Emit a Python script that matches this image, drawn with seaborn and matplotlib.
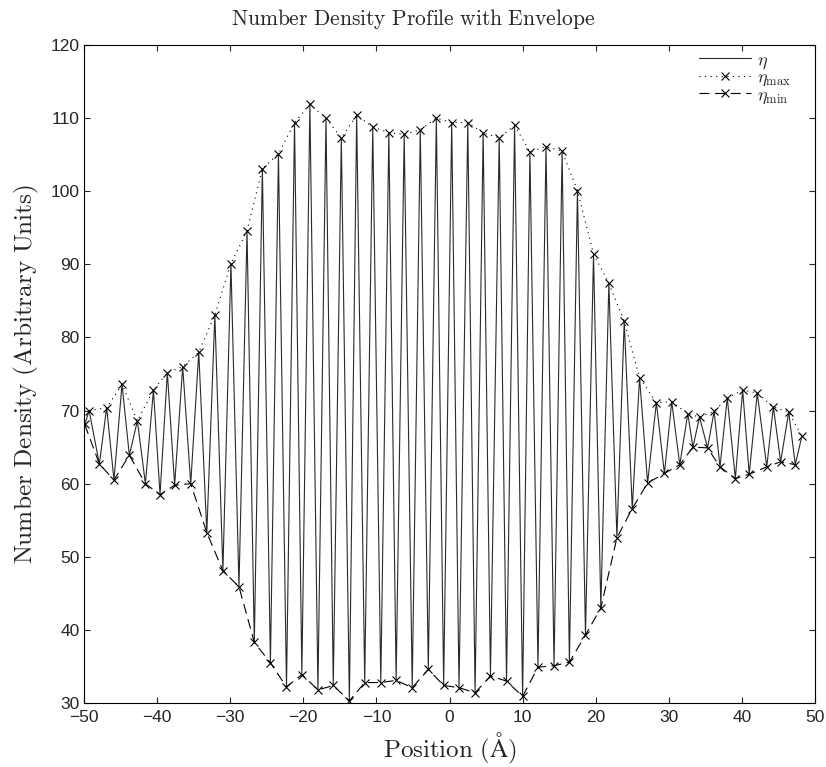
import matplotlib
matplotlib.use("Agg")
import matplotlib.pyplot as plt
import pandas as pd
import seaborn as sns

# envelope points (position in Angstrom, density)
max_x = [-49.3, -46.9, -44.8, -42.7, -40.5, -38.6, -36.5, -34.3, -32.1, -29.9,
         -27.7, -25.6, -23.4, -21.2, -19.1, -16.9, -14.8, -12.7, -10.5, -8.3,
         -6.2, -4.0, -1.8, 0.3, 2.5, 4.6, 6.8, 8.9, 11.0, 13.2,
         15.4, 17.5, 19.7, 21.8, 23.9, 26.0, 28.3, 30.4, 32.6, 34.2,
         36.2, 38.0, 40.1, 42.1, 44.3, 46.4, 48.2]
max_y = [70.0, 70.4, 73.6, 68.6, 72.8, 75.2, 76.0, 78.0, 83.1, 90.1,
         94.6, 103.1, 105.1, 109.4, 111.9, 110.0, 107.3, 110.4, 108.8, 108.0,
         107.8, 108.4, 110.0, 109.4, 109.4, 108.0, 107.3, 109.0, 105.4, 106.1,
         105.5, 100.1, 91.4, 87.4, 82.2, 74.5, 71.1, 71.2, 69.6, 69.1,
         69.9, 71.7, 72.8, 72.4, 70.5, 69.8, 66.5]

min_x = [-49.9, -47.9, -45.9, -43.8, -41.6, -39.6, -37.6, -35.4, -33.2, -31.0,
         -28.8, -26.7, -24.5, -22.3, -20.2, -18.0, -15.9, -13.7, -11.6, -9.4,
         -7.3, -5.1, -2.9, -0.8, 1.3, 3.5, 5.6, 7.8, 10.0, 12.1,
         14.3, 16.4, 18.6, 20.7, 22.9, 25.0, 27.1, 29.4, 31.5, 33.3,
         35.3, 37.0, 39.1, 41.0, 43.4, 45.3, 47.3]
min_y = [68.1, 62.7, 60.5, 63.9, 60.0, 58.5, 59.8, 60.0, 53.3, 48.1,
         45.9, 38.3, 35.5, 32.2, 33.9, 31.8, 32.4, 30.3, 32.8, 32.8,
         33.1, 32.1, 34.6, 32.4, 32.1, 31.4, 33.7, 33.0, 30.9, 34.9,
         35.1, 35.6, 39.3, 43.0, 52.6, 56.6, 60.1, 61.4, 62.6, 65.0,
         64.9, 62.3, 60.7, 61.3, 62.3, 63.0, 62.6]

X_TICKS = [-50, -40, -30, -20, -10, 0, 10, 20, 30, 40, 50]
Y_TICKS = [30, 40, 50, 60, 70, 80, 90, 100, 110, 120]


def main() -> None:
    sns.set_style("ticks")
    plt.rcParams["font.family"] = ["Liberation Sans", "DejaVu Sans"]
    plt.rcParams["mathtext.fontset"] = "cm"

    # the profile itself runs through the extrema in order of position
    eta = pd.DataFrame({"x": max_x + min_x, "y": max_y + min_y}).sort_values("x")
    upper = pd.DataFrame({"x": max_x, "y": max_y})
    lower = pd.DataFrame({"x": min_x, "y": min_y})

    fig = plt.figure(figsize=(8.26, 7.67), dpi=100)
    ax = fig.add_axes([0.1017, 0.0834, 0.885, 0.8579])

    env_kw = dict(ax=ax, sort=False, estimator=None, color="black", lw=0.8,
                  marker="x", markersize=6.3, markeredgewidth=0.8,
                  markeredgecolor="black")
    sns.lineplot(data=eta, x="x", y="y", ax=ax, sort=False, estimator=None,
                 color="#2a2a2a", lw=0.8, label=r"$\eta$")
    sns.lineplot(data=upper, x="x", y="y", linestyle=(0, (1, 4)),
                 label=r"$\eta_{\max}$", **env_kw)
    sns.lineplot(data=lower, x="x", y="y", linestyle=(0, (9, 5)),
                 label=r"$\eta_{\min}$", **env_kw)

    ax.set_xlim(-50, 50)
    ax.set_ylim(30, 120)
    ax.set_xticks(X_TICKS)
    ax.set_yticks(Y_TICKS)
    ax.tick_params(direction="in", top=True, right=True, length=4,
                   width=0.8, labelsize=12.5)
    ax.tick_params(axis="x", pad=5)
    ax.tick_params(axis="y", pad=3)
    for sp in ax.spines.values():
        sp.set_visible(True)
        sp.set_linewidth(0.8)
        sp.set_color("black")

    fig.text(0.5, 1 - 19 / 767,
             r"$\mathrm{Number\ Density\ Profile\ with\ Envelope}$",
             fontsize=15.5, ha="center", va="center")
    ax.set_xlabel(r"$\mathrm{Position\ (\AA)}$", fontsize=18, labelpad=4)
    ax.set_ylabel(r"$\mathrm{Number\ Density\ (Arbitrary\ Units)}$",
                  fontsize=18.2, labelpad=7)

    ax.legend(loc="upper left", bbox_to_anchor=(0.841, 0.99), fontsize=13,
              frameon=False, borderpad=0, borderaxespad=0, handlelength=2.9,
              handletextpad=0.3, labelspacing=-0.1, numpoints=1,
              markerscale=0.85)

    fig.savefig("out.png", dpi=100)
    plt.close(fig)


if __name__ == "__main__":
    main()
